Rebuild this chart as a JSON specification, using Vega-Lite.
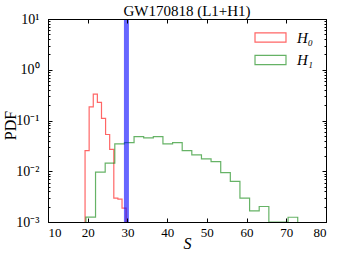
{
  "$schema": "https://vega.github.io/schema/vega-lite/v6.json",
  "autosize": "none",
  "width": 278,
  "height": 203,
  "padding": {"left": 48, "top": 19, "right": 12, "bottom": 36},
  "background": "white",
  "config": {
    "font": "Liberation Serif",
    "view": {"stroke": "black", "strokeWidth": 1}
  },
  "title": {"text": "GW170818 (L1+H1)", "font": "Liberation Serif", "fontSize": 15, "fontWeight": "normal", "color": "black", "offset": -7},
  "datasets": {
    "hist": [
      {"series": "H0", "ord": 0, "S": 19.33, "pdf": 0.001},
      {"series": "H0", "ord": 1, "S": 19.33, "pdf": 0.0255},
      {"series": "H0", "ord": 2, "S": 20.36, "pdf": 0.185},
      {"series": "H0", "ord": 3, "S": 21.40, "pdf": 0.33},
      {"series": "H0", "ord": 4, "S": 22.43, "pdf": 0.228},
      {"series": "H0", "ord": 5, "S": 23.47, "pdf": 0.11},
      {"series": "H0", "ord": 6, "S": 24.50, "pdf": 0.053},
      {"series": "H0", "ord": 7, "S": 25.53, "pdf": 0.027},
      {"series": "H0", "ord": 8, "S": 26.57, "pdf": 0.00295},
      {"series": "H0", "ord": 9, "S": 27.60, "pdf": 0.00283},
      {"series": "H0", "ord": 10, "S": 28.64, "pdf": 0.00188},
      {"series": "H0", "ord": 11, "S": 29.67, "pdf": 0.00188},
      {"series": "H0", "ord": 12, "S": 29.67, "pdf": 0.001},
      {"series": "H1", "ord": 0, "S": 19.55, "pdf": 0.001},
      {"series": "H1", "ord": 1, "S": 19.55, "pdf": 0.00125},
      {"series": "H1", "ord": 2, "S": 21.97, "pdf": 0.0096},
      {"series": "H1", "ord": 3, "S": 24.40, "pdf": 0.0144},
      {"series": "H1", "ord": 4, "S": 26.82, "pdf": 0.0346},
      {"series": "H1", "ord": 5, "S": 29.25, "pdf": 0.0367},
      {"series": "H1", "ord": 6, "S": 31.67, "pdf": 0.0482},
      {"series": "H1", "ord": 7, "S": 34.09, "pdf": 0.0454},
      {"series": "H1", "ord": 8, "S": 36.52, "pdf": 0.0482},
      {"series": "H1", "ord": 9, "S": 38.94, "pdf": 0.0346},
      {"series": "H1", "ord": 10, "S": 41.37, "pdf": 0.0367},
      {"series": "H1", "ord": 11, "S": 43.79, "pdf": 0.0256},
      {"series": "H1", "ord": 12, "S": 46.21, "pdf": 0.021},
      {"series": "H1", "ord": 13, "S": 48.64, "pdf": 0.0175},
      {"series": "H1", "ord": 14, "S": 51.06, "pdf": 0.0155},
      {"series": "H1", "ord": 15, "S": 53.49, "pdf": 0.0094},
      {"series": "H1", "ord": 16, "S": 55.91, "pdf": 0.0063},
      {"series": "H1", "ord": 17, "S": 58.33, "pdf": 0.00295},
      {"series": "H1", "ord": 18, "S": 60.76, "pdf": 0.00166},
      {"series": "H1", "ord": 19, "S": 63.18, "pdf": 0.00202},
      {"series": "H1", "ord": 20, "S": 65.61, "pdf": 0.001},
      {"series": "H1", "ord": 21, "S": 68.03, "pdf": 0.001},
      {"series": "H1", "ord": 22, "S": 70.45, "pdf": 0.00124},
      {"series": "H1", "ord": 23, "S": 72.88, "pdf": 0.00124},
      {"series": "H1", "ord": 24, "S": 72.88, "pdf": 0.001}
    ],
    "vline": [{"S": 29.75}]
  },
  "layer": [
    {
      "data": {"name": "hist"},
      "mark": {"type": "line", "interpolate": "step-after", "strokeWidth": 1.2, "opacity": 0.6, "clip": true},
      "encoding": {
        "x": {
          "field": "S", "type": "quantitative",
          "scale": {"domain": [10, 80], "nice": false, "zero": false},
          "axis": {
            "orient": "bottom", "values": [10, 20, 30, 40, 50, 60, 70, 80], "format": "d",
            "grid": false, "tickSize": -4, "tickColor": "black", "domainColor": "black",
            "labelFont": "Liberation Serif", "labelFontSize": 13, "labelColor": "black", "labelPadding": 8,
            "title": "S", "titleFont": "Liberation Serif", "titleFontStyle": "italic", "titleFontWeight": "normal",
            "titleFontSize": 16, "titleColor": "black", "titleY": 26, "titleBaseline": "alphabetic", "zindex": 1
          }
        },
        "y": {
          "field": "pdf", "type": "quantitative",
          "scale": {"type": "log", "domain": [0.001, 10], "nice": false},
          "axis": {
            "orient": "left",
            "values": [0.001, 0.002, 0.003, 0.004, 0.005, 0.006, 0.007, 0.008, 0.009, 0.01, 0.02, 0.03, 0.04, 0.05, 0.06, 0.07, 0.08, 0.09, 0.1, 0.2, 0.3, 0.4, 0.5, 0.6, 0.7, 0.8, 0.9, 1, 2, 3, 4, 5, 6, 7, 8, 9, 10],
            "labelExpr": "datum.value == 10 ? '10¹' : datum.value == 1 ? '10⁰' : datum.value == 0.1 ? '10⁻¹' : datum.value == 0.01 ? '10⁻²' : datum.value == 0.001 ? '10⁻³' : ''",
            "grid": false,
            "tickSize": {"condition": {"test": "indexof([10, 1, 0.1, 0.01, 0.001], datum.value) >= 0", "value": -4}, "value": -2},
            "tickColor": "black", "domainColor": "black",
            "labelFont": "Liberation Serif", "labelFontSize": 14, "labelColor": "black", "labelPadding": 13,
            "title": "PDF", "titleFont": "Liberation Serif", "titleFontWeight": "normal", "titleFontSize": 16,
            "titleColor": "black", "titleAngle": -90, "titleX": -33, "titleY": 106, "titleBaseline": "alphabetic", "titleAlign": "center", "zindex": 1
          }
        },
        "color": {
          "field": "series", "type": "nominal",
          "scale": {"domain": ["H0", "H1"], "range": ["#ff0000", "#008000"]},
          "legend": {
            "orient": "none", "legendX": 214, "legendY": 10, "title": null, "padding": 0,
            "symbolType": "M-2,-0.6H2V0.6H-2Z", "symbolSize": 240, "symbolStrokeWidth": 1.2,
            "symbolFillColor": "transparent", "symbolOpacity": 0.6,
            "labelExpr": "datum.label == 'H0' ? 'H₀' : 'H₁'",
            "labelFont": "Liberation Serif", "labelFontStyle": "italic", "labelFontSize": 15, "labelColor": "black",
            "labelOffset": 18, "rowPadding": 5.5
          }
        },
        "order": {"field": "ord", "type": "quantitative"}
      }
    },
    {
      "data": {"name": "hist"},
      "mark": {"type": "line", "opacity": 0},
      "encoding": {
        "x": {
          "field": "S", "type": "quantitative",
          "axis": {"orient": "top", "values": [10, 20, 30, 40, 50, 60, 70, 80], "labels": false, "title": null, "grid": false, "tickSize": -4, "tickColor": "black", "domainColor": "black", "zindex": 1}
        },
        "y": {
          "field": "pdf", "type": "quantitative",
          "axis": {
            "orient": "right",
            "values": [0.001, 0.002, 0.003, 0.004, 0.005, 0.006, 0.007, 0.008, 0.009, 0.01, 0.02, 0.03, 0.04, 0.05, 0.06, 0.07, 0.08, 0.09, 0.1, 0.2, 0.3, 0.4, 0.5, 0.6, 0.7, 0.8, 0.9, 1, 2, 3, 4, 5, 6, 7, 8, 9, 10],
            "labels": false, "title": null, "grid": false,
            "tickSize": {"condition": {"test": "indexof([10, 1, 0.1, 0.01, 0.001], datum.value) >= 0", "value": -4}, "value": -2},
            "tickColor": "black", "domainColor": "black", "zindex": 1
          }
        },
        "detail": {"field": "series"},
        "order": {"field": "ord", "type": "quantitative"}
      }
    },
    {
      "data": {"name": "vline"},
      "mark": {"type": "rule", "color": "#0000ff", "opacity": 0.6, "strokeWidth": 5},
      "encoding": {
        "x": {"field": "S", "type": "quantitative", "axis": null}
      }
    }
  ],
  "resolve": {"axis": {"x": "independent", "y": "independent"}}
}
